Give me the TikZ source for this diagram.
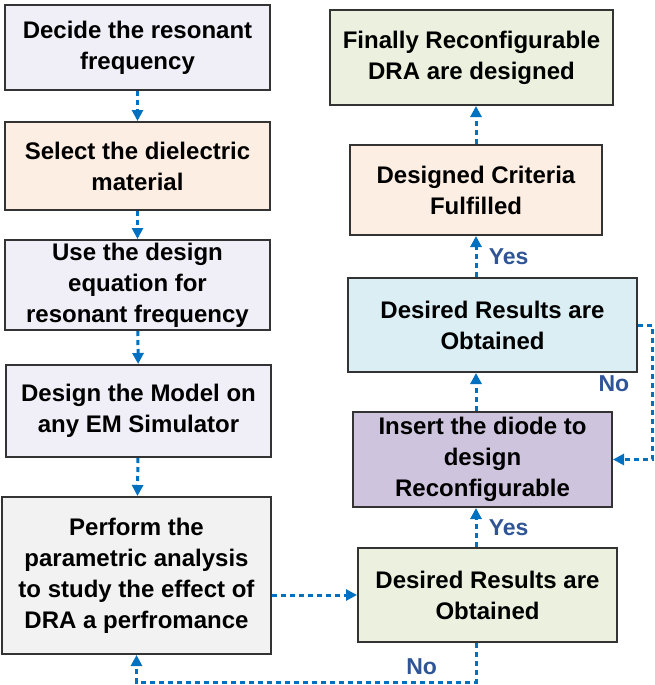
\documentclass[tikz,border=0pt]{standalone}
\usepackage{fontspec}
\setmainfont{Liberation Sans}
\usetikzlibrary{arrows.meta,positioning}
\definecolor{lav}{HTML}{F0EEF6}
\definecolor{peach}{HTML}{FDEEE3}
\definecolor{grey}{HTML}{F2F2F2}
\definecolor{green}{HTML}{EBF1DE}
\definecolor{cyan}{HTML}{DBEEF3}
\definecolor{purple}{HTML}{CFC4DD}
\definecolor{flow}{HTML}{0070C0}
\definecolor{lbl}{HTML}{2F5597}
\begin{document}
\begin{tikzpicture}[x=1pt,y=-1pt,
    block/.style={rectangle, draw=black!80, line width=2pt, align=center, inner sep=0pt,
      font=\fontsize{24}{31}\selectfont\bfseries},
    arrow/.style={-{Triangle[length=11pt,width=11pt]}, draw=flow, line width=3pt, dash pattern=on 5pt off 4pt},
    lab/.style={text=lbl, font=\fontsize{23}{25}\selectfont\bfseries}
]
\useasboundingbox (0,0) rectangle (655,685);
% left column
\node[block, fill=lav, minimum width=265pt, minimum height=85pt] (decide) at (137.5,47.5) {Decide the resonant\\frequency};
\node[block, fill=peach, minimum width=265pt, minimum height=88pt] (select) at (137.5,166) {Select the dielectric\\material};
\node[block, fill=lav, minimum width=265pt, minimum height=90pt] (equation) at (137.5,285) {Use the design\\equation for\\resonant frequency};
\node[block, fill=lav, minimum width=265pt, minimum height=92pt] (model) at (138.5,411) {Design the Model on\\any EM Simulator};
\node[block, fill=grey, minimum width=269pt, minimum height=157pt] (param) at (136.5,575.5) {Perform the\\parametric analysis\\to study the effect of\\DRA a perfromance};
% right column
\node[block, fill=green, minimum width=283pt, minimum height=95pt] (final) at (471.5,57.5) {Finally Reconfigurable\\DRA are designed};
\node[block, fill=peach, minimum width=252pt, minimum height=90pt] (criteria) at (476,190) {Designed Criteria\\Fulfilled};
\node[block, fill=cyan, minimum width=289pt, minimum height=94pt] (result1) at (492.5,325) {Desired Results are\\Obtained};
\node[block, fill=purple, minimum width=259pt, minimum height=95pt] (diode) at (482.5,459.5) {Insert the diode to\\design\\Reconfigurable};
\node[block, fill=green, minimum width=259pt, minimum height=94pt] (result2) at (487.5,595) {Desired Results are\\Obtained};
\coordinate (col) at (476,0);
\coordinate (loopR) at (652,325);
\coordinate (loopB) at (476,682);

% arrows
\draw[arrow] (decide) -- (select);
\draw[arrow] (select) -- (equation);
\draw[arrow] (equation) -- (model);
\draw[arrow] (model) -- (param);
\draw[arrow] (param.east |- result2) -- (result2);
\draw[arrow] (result2.north -| col) -- (diode.south -| col) node[lab, midway, right=8pt] {Yes};
\draw[arrow] (diode.north -| col) -- (result1.south -| col);
\draw[arrow] (result1.north -| col) -- (criteria.south -| col) node[lab, midway, right=8pt] {Yes};
\draw[arrow] (criteria.north -| col) -- (final.south -| col);
\draw[arrow] (result1.east) -- (loopR) |- (diode.east) node[lab, pos=0.22, left=18pt] {No};
\draw[arrow] (result2.south -| loopB) -- (loopB) -| (param.south) node[lab, pos=0.08, above=2pt] {No};
\end{tikzpicture}
\end{document}
